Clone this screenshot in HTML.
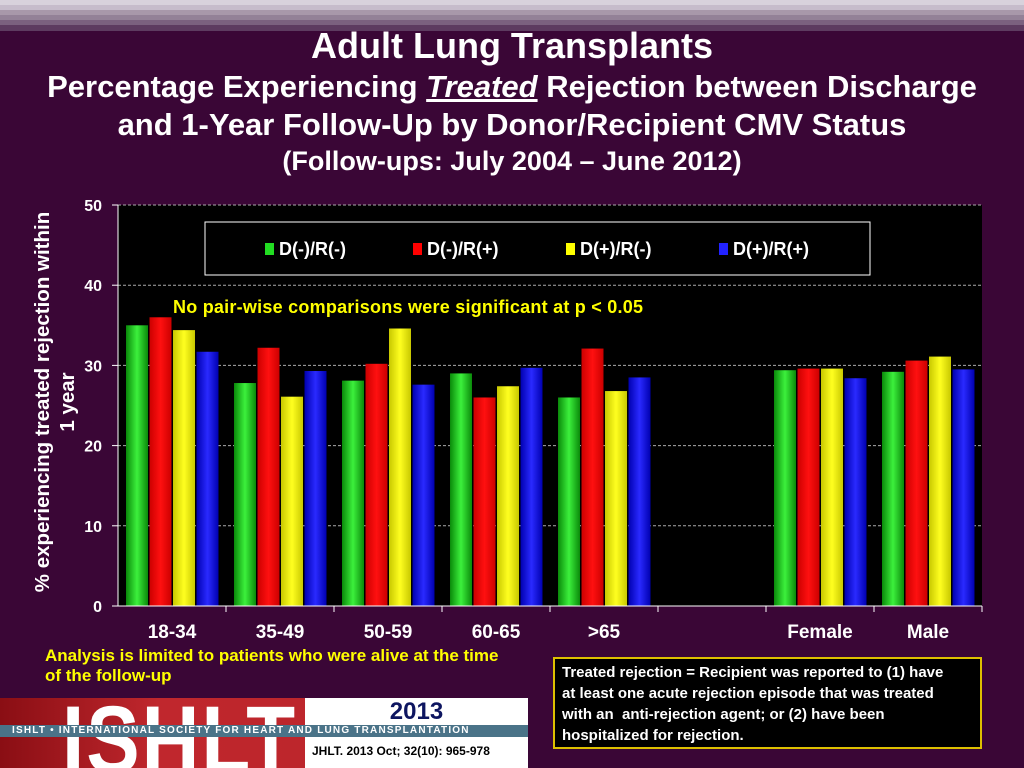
<!DOCTYPE html>
<html><head><meta charset="utf-8"><style>
html,body{margin:0;width:1024px;height:768px;overflow:hidden}
body{background:#3a0636;font-family:"Liberation Sans",sans-serif;position:relative}
.t{position:absolute;left:0;width:1024px;text-align:center;color:#fff;font-weight:bold;white-space:nowrap}
</style></head><body>
<div style="position:absolute;left:0;top:0;width:1024px;height:31px;background:linear-gradient(#d8d2dc 0,#d8d2dc 5px,#c6bccb 5px,#c6bccb 10px,#a898aa 10px,#a898aa 15px,#938197 15px,#938197 20px,#7b617f 20px,#7b617f 25px,#5d3b60 25px,#5d3b60 31px)"></div>
<div class="t" style="top:25px;font-size:36px;line-height:42px">Adult Lung Transplants</div>
<div class="t" style="top:68px;font-size:31px;line-height:38px">Percentage Experiencing <i><u>Treated</u></i> Rejection between Discharge<br>and 1-Year Follow-Up by Donor/Recipient CMV Status</div>
<div class="t" style="top:145px;font-size:27px;line-height:32px">(Follow-ups: July 2004 – June 2012)</div>
<svg id="chart" width="1024" height="768" style="position:absolute;left:0;top:0">
<defs>
<linearGradient id="g0" x1="0" x2="1"><stop offset="0" stop-color="#0a8a0a"/><stop offset=".5" stop-color="#3cf03c"/><stop offset="1" stop-color="#0a8a0a"/></linearGradient>
<linearGradient id="g1" x1="0" x2="1"><stop offset="0" stop-color="#c00"/><stop offset=".5" stop-color="#ff1010"/><stop offset="1" stop-color="#c00"/></linearGradient>
<linearGradient id="g2" x1="0" x2="1"><stop offset="0" stop-color="#c8c800"/><stop offset=".5" stop-color="#ffff20"/><stop offset="1" stop-color="#c8c800"/></linearGradient>
<linearGradient id="g3" x1="0" x2="1"><stop offset="0" stop-color="#0000b0"/><stop offset=".5" stop-color="#2a2aff"/><stop offset="1" stop-color="#0000b0"/></linearGradient>
</defs>
<rect x="118" y="205" width="864" height="401" fill="#000"/>
<g id="grid"></g><g id="bars"></g><g id="axes"></g>
<rect x="205" y="222" width="665" height="53" fill="#000" stroke="#fff" stroke-width="1"/>
<g id="legend"></g>
<text x="173" y="313" fill="#ffff00" font-size="18" font-weight="bold" textLength="470">No pair-wise comparisons were significant at p &lt; 0.05</text>
<text transform="translate(49,402) rotate(-90)" text-anchor="middle" fill="#fff" font-size="20.5" font-weight="bold"><tspan x="0" dy="0">% experiencing treated rejection within</tspan><tspan x="0" dy="25">1 year</tspan></text>
</svg>
<div style="position:absolute;left:45px;top:646px;color:#ffff00;font-size:17px;font-weight:bold;line-height:20px;white-space:nowrap">Analysis is limited to patients who were alive at the time<br>of the follow-up</div>
<div style="position:absolute;left:553px;top:657px;width:418px;height:85px;border:2px solid #ddc000;background:#000;color:#fff;font-size:15px;font-weight:bold;line-height:21px;padding:3px 0 0 7px">Treated rejection = Recipient was reported to (1) have<br>at least one acute rejection episode that was treated<br>with an&nbsp; anti-rejection agent; or (2) have been<br>hospitalized for rejection.</div>
<div style="position:absolute;left:0;top:698px;width:528px;height:70px;overflow:hidden;background:linear-gradient(90deg,#8a0e14,#c0272d 30%,#b8242a);">
<div style="position:absolute;left:62px;top:-6px;font-size:80px;font-weight:bold;color:#fff;line-height:80px;letter-spacing:2px;transform:scale(1,1.2);transform-origin:left top">ISHLT</div>
<div style="position:absolute;left:305px;top:0;width:223px;height:70px;background:#fff"></div>
<div style="position:absolute;left:0;top:27px;width:528px;height:12px;background:#4a7388;color:#fff;font-size:10px;font-weight:bold;line-height:12px;letter-spacing:1.2px;padding-left:12px;box-sizing:border-box;white-space:nowrap">ISHLT • INTERNATIONAL SOCIETY FOR HEART AND LUNG TRANSPLANTATION</div>
<div style="position:absolute;left:305px;top:0;width:223px;text-align:center;font-size:24px;font-weight:bold;color:#0d1560;line-height:28px">2013</div>
<div style="position:absolute;left:312px;top:46px;font-size:12px;font-weight:bold;color:#000">JHLT. 2013 Oct; 32(10): 965-978</div>
</div>
<script>
const categories=["18-34","35-49","50-59","60-65",">65","","Female","Male"];
const seriesNames=["D(-)/R(-)","D(-)/R(+)","D(+)/R(-)","D(+)/R(+)"];
const s0=[35.0,27.8,28.1,29.0,26.0,null,29.4,29.2];
const s1=[36.0,32.2,30.2,26.0,32.1,null,29.6,30.6];
const s2=[34.4,26.1,34.6,27.4,26.8,null,29.6,31.1];
const s3=[31.7,29.3,27.6,29.7,28.5,null,28.4,29.5];
const yTicks=[0,10,20,30,40,50];
const series=[s0,s1,s2,s3];
const NS="http://www.w3.org/2000/svg";
const X0=118,W=864,Y0=606,H=401,YMAX=50;
const bw=W/categories.length;
const y=v=>Y0-v/YMAX*H;
function mk(t,a,p){const e=document.createElementNS(NS,t);for(const k in a)e.setAttribute(k,a[k]);document.getElementById(p).appendChild(e);return e;}
yTicks.forEach(v=>{
 if(v>0){const l=mk("line",{x1:X0,x2:X0+W,y1:y(v),y2:y(v),stroke:"#aaa","stroke-dasharray":"3,2","stroke-width":1},"grid");
 
 }
 const t=mk("text",{x:X0-16,y:y(v)+6,fill:"#fff","font-size":16,"font-weight":"bold","text-anchor":"end"},"axes");t.textContent=v;
 
 
 const tk=mk("line",{x1:X0-6,x2:X0,y1:y(v),y2:y(v),stroke:"#fff"},"axes");
 
 
});
const ax=mk("line",{x1:X0,x2:X0,y1:Y0-H,y2:Y0,stroke:"#fff"},"axes");


const xa=mk("line",{x1:X0,x2:X0+W,y1:Y0,y2:Y0,stroke:"#fff"},"axes");


categories.forEach((c,i)=>{
 const gx=X0+i*bw;
 const tk=mk("line",{x1:gx+bw,x2:gx+bw,y1:Y0,y2:Y0+6,stroke:"#fff"},"axes");
 
 
 const t=mk("text",{x:gx+bw/2,y:Y0+32,fill:"#fff","font-size":19,"font-weight":"bold","text-anchor":"middle"},"axes");t.textContent=c;
 
 
 series.forEach((s,j)=>{
  if(s[i]==null)return;
  const r=mk("rect",{x:gx+8+j*23.5,y:y(s[i]),width:22,height:Y0-y(s[i]),fill:"url(#g"+j+")"},"bars");
  
  
 });
});
const lx=[265,413,566,719],cols=["#22dd22","#ff0000","#ffff00","#2222ff"];
seriesNames.forEach((n,j)=>{
 const r=mk("rect",{x:lx[j],y:243,width:9,height:12,fill:cols[j]},"legend");
 
 
 const t=mk("text",{x:lx[j]+14,y:255,fill:"#fff","font-size":18,"font-weight":"bold"},"legend");t.textContent=n;
 
 
});
</script>
</body></html>
